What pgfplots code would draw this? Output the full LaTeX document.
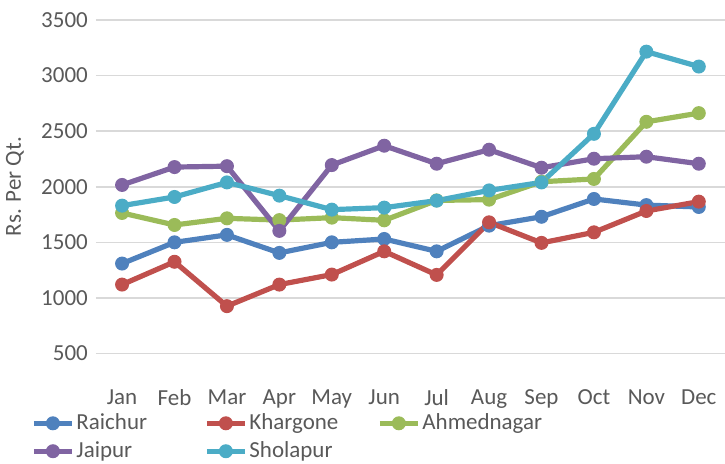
\documentclass[border=0pt]{standalone}
\usepackage{fontspec}
\setmainfont{Carlito}
\usepackage{pgfplots}
\pgfplotsset{compat=1.18}
\definecolor{cRai}{HTML}{4F81BD}
\definecolor{cKha}{HTML}{C0504D}
\definecolor{cAhm}{HTML}{9BBB59}
\definecolor{cJai}{HTML}{8064A2}
\definecolor{cSho}{HTML}{4BACC6}
\definecolor{txt}{HTML}{595959}
\definecolor{grd}{HTML}{D9D9D9}
\begin{document}
\begin{tikzpicture}
\begin{axis}[
  name=ax,
  scale only axis,
  width=315pt, height=167pt,
  xmin=-0.5, xmax=11.5,
  ymin=500, ymax=3500,
  ytick={500,1000,...,3500},
  xtick={0,...,11},
  xticklabels={Jan,Feb,Mar,Apr,May,Jun,Jul,Aug,Sep,Oct,Nov,Dec},
  axis line style={draw=none},
  major tick length=0pt,
  ymajorgrids,
  grid style={grd, line width=0.8pt},
  font=\fontsize{11.5}{13.5}\selectfont,
  tick label style={txt},
  /pgf/number format/assume math mode=true,
  /pgf/number format/1000 sep={},
  yticklabel style={xshift=-0.5pt},
  xticklabel style={yshift=-14.5pt},
  ylabel={Rs. Per Qt.},
  ylabel style={txt, at={(axis description cs:-0.1286,0.5)}, anchor=center},
  every axis plot/.append style={line width=2.6pt, mark=*, mark size=3.2pt, mark options={line width=0.6pt}},
  legend image code/.code={\draw[mark repeat=2,mark phase=2,#1] plot coordinates {(0pt,0pt) (9.5pt,0pt) (19pt,0pt)};},
  legend columns=3,
  legend cell align=left,
  legend style={draw=none, fill=none, font=\fontsize{11.5}{13.5}\selectfont, text=txt,
    at={(axis description cs:0,0)}, anchor=north west, xshift=-32.5pt, yshift=-29pt,
    inner sep=0pt, row sep=2.5pt,
    nodes={inner xsep=1pt, inner ysep=1pt},
    /tikz/every even column/.append style={column sep=0pt},
    /tikz/every odd column/.append style={column sep=0pt}},
]
\addplot[color=cRai] coordinates {(0,1309) (1,1500) (2,1567) (3,1405) (4,1500) (5,1530) (6,1419) (7,1650) (8,1730) (9,1890) (10,1835) (11,1818)};
\addlegendentry{\makebox[63pt][l]{Raichur}}
\addplot[color=cKha] coordinates {(0,1120) (1,1325) (2,926) (3,1120) (4,1210) (5,1419) (6,1207) (7,1680) (8,1495) (9,1590) (10,1782) (11,1866)};
\addlegendentry{\makebox[63pt][l]{Khargone}}
\addplot[color=cAhm] coordinates {(0,1764) (1,1656) (2,1716) (3,1700) (4,1722) (5,1698) (6,1877) (7,1884) (8,2045) (9,2070) (10,2584) (11,2662)};
\addlegendentry{Ahmednagar}
\addplot[color=cJai] coordinates {(0,2016) (1,2177) (2,2185) (3,1603) (4,2195) (5,2369) (6,2207) (7,2333) (8,2171) (9,2252) (10,2270) (11,2207)};
\addlegendentry{\makebox[63pt][l]{Jaipur}}
\addplot[color=cSho] coordinates {(0,1830) (1,1908) (2,2039) (3,1920) (4,1794) (5,1812) (6,1875) (7,1967) (8,2039) (9,2476) (10,3215) (11,3081)};
\addlegendentry{\makebox[63pt][l]{Sholapur}}
\end{axis}
\pgfresetboundingbox
\path ([xshift=-48pt,yshift=-55pt]ax.south west) rectangle ([yshift=10pt]ax.north east);
\end{tikzpicture}
\end{document}
